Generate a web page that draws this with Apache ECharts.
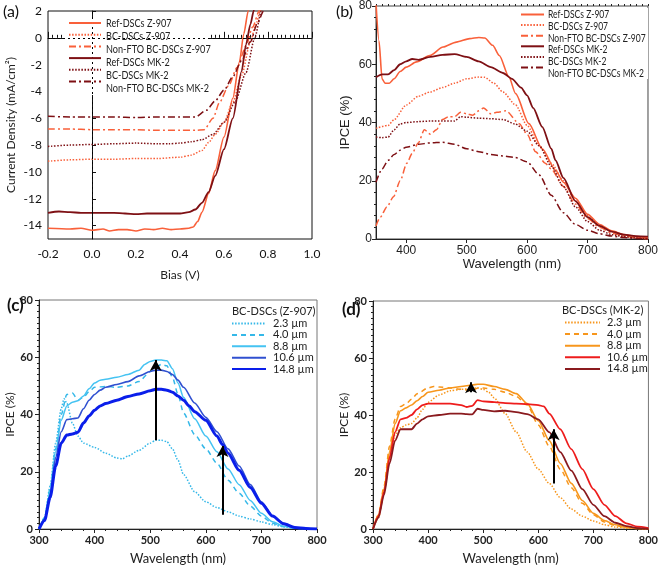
<!DOCTYPE html>
<html><head><meta charset="utf-8">
<script src="https://cdn.jsdelivr.net/npm/echarts@6/dist/echarts.min.js"></script>
<style>html,body{margin:0;padding:0;background:#fff}#c{width:661px;height:566px}</style>
</head><body><div id="c"></div>
<script>
// ---------- Panel (a): J-V curves [bias V, current density mA/cm2] ----------
const aNames = ['Ref-DSCs Z-907','BC-DSCs Z-907','Non-FTO BC-DSCs Z-907','Ref-DSCs MK-2','BC-DSCs MK-2','Non-FTO BC-DSCs MK-2'];
const aRefZ = [[-0.2,-14.2],[-0.1,-14.25],[-0.05,-14.2],[0,-14.35],[0.05,-14.25],[0.08,-14.4],[0.12,-14.3],[0.16,-14.3],[0.2,-14.4],[0.24,-14.25],[0.28,-14.3],[0.32,-14.2],[0.36,-14.3],[0.4,-14.25],[0.44,-14.2],[0.46,-14.1],[0.48,-13.7],[0.5,-13.0],[0.53,-11.6],[0.56,-9.9],[0.6,-7.4],[0.64,-4.5],[0.67,-1.8],[0.69,0.3],[0.71,2.0],[0.72,3]];
const aBCZ = [[-0.2,-9.2],[-0.1,-9.1],[0,-9.05],[0.1,-9.05],[0.2,-9.0],[0.3,-9.0],[0.4,-8.9],[0.45,-8.75],[0.5,-8.4],[0.53,-7.8],[0.56,-7.2],[0.6,-6.3],[0.64,-4.8],[0.68,-2.8],[0.72,-0.3],[0.745,1.0],[0.765,2.0],[0.775,3]];
const aNonZ = [[-0.2,-6.8],[-0.1,-6.8],[0,-6.85],[0.1,-6.85],[0.2,-6.85],[0.3,-6.9],[0.4,-6.9],[0.47,-6.9],[0.51,-6.85],[0.55,-6.0],[0.58,-4.8],[0.62,-3.6],[0.66,-2.2],[0.7,-0.6],[0.73,0.8],[0.76,2.0],[0.77,3]];
const aRefM = [[-0.2,-13.05],[-0.15,-12.95],[-0.1,-13.0],[-0.05,-13.05],[0,-13.05],[0.05,-13.05],[0.1,-13.05],[0.15,-13.1],[0.2,-13.15],[0.25,-13.1],[0.3,-13.1],[0.35,-13.1],[0.4,-13.1],[0.44,-13.0],[0.47,-12.8],[0.5,-12.3],[0.53,-11.5],[0.56,-10.3],[0.6,-8.3],[0.64,-6.0],[0.68,-2.5],[0.70,-0.5],[0.72,1.0],[0.735,2.0],[0.745,3]];
const aBCM = [[-0.2,-8.1],[-0.1,-8.0],[0,-7.95],[0.1,-7.9],[0.2,-7.85],[0.3,-7.9],[0.35,-7.9],[0.4,-7.85],[0.45,-7.75],[0.5,-7.6],[0.55,-7.2],[0.6,-6.3],[0.65,-4.8],[0.7,-2.6],[0.74,0],[0.77,2],[0.78,3]];
const aNonM = [[-0.2,-5.85],[-0.1,-5.9],[0,-5.9],[0.1,-5.9],[0.2,-5.95],[0.3,-5.9],[0.4,-5.9],[0.47,-5.9],[0.52,-5.4],[0.56,-4.7],[0.6,-3.9],[0.64,-2.9],[0.68,-1.7],[0.72,-0.3],[0.75,1.0],[0.78,2.0],[0.79,3]];
const aXTicks = [-0.2,0,0.2,0.4,0.6,0.8,1.0];
const aYTicks = [-14,-12,-10,-8,-6,-4,-2,0,2];

// ---------- Panel (b): IPCE [nm, %] ----------
const bRefZ = [[350,81],[355,68],[360,55],[365,53.5],[372,53.5],[380,55],[390,57.5],[400,59],[417,60.8],[439,63],[461,65.9],[483,67.6],[505,68.8],[520,69.2],[530,69],[543,66.5],[554,63],[570,55.6],[581,49.9],[603,39.6],[625,31],[647,23.6],[660,19.5],[680,14],[700,8.5],[720,5],[740,2.8],[760,1.5],[780,0.8],[800,0.4]];
const bBCZ = [[350,38],[370,39],[380,41],[400,46],[420,49],[440,50.5],[460,52],[480,53.5],[500,55],[520,55.6],[530,55.5],[545,53.5],[560,50.5],[581,46],[600,39],[620,32],[640,26],[660,20],[680,13],[700,8],[720,4.5],[740,2.5],[760,1.2],[780,0.5],[800,0]];
const bNonZ = [[350,4.5],[357,7.5],[368,11],[379,14.5],[390,20],[401,26],[410,29.5],[420,33],[430,37.5],[440,36],[450,37.5],[460,41],[470,42],[480,42],[490,43.5],[500,43],[510,42.5],[520,44],[528,45],[540,43],[550,43.5],[565,44],[587,39.6],[600,36],[614,30],[630,26],[640,24],[660,18],[680,12],[700,7],[720,4],[740,2],[760,1],[780,0.5],[800,0]];
const bRefM = [[350,55.5],[360,56.5],[370,56.5],[380,58],[390,60],[400,61],[410,61.8],[420,61.5],[440,62.5],[460,63.2],[480,63.5],[500,62.5],[520,61],[540,59],[560,57],[575,55],[590,52],[600,49.3],[610,45],[625,38.5],[640,31],[647,27],[660,21],[680,13],[700,7.5],[720,4.5],[740,2.5],[760,1.5],[780,1],[800,0.8]];
const bBCM = [[350,35],[360,34.8],[370,35],[380,37.5],[390,39.5],[400,40],[420,40.3],[440,40.5],[460,40.5],[480,40.5],[490,42],[500,41.8],[520,41.5],[540,41.3],[560,41],[580,39.5],[600,37],[620,32],[640,25],[660,18],[680,11],[700,6],[720,3],[740,1.5],[760,0.8],[780,0.3],[800,0]];
const bNonM = [[350,19.5],[360,24],[370,27],[380,29],[390,30.5],[400,31.5],[420,32.5],[440,33],[460,33.2],[480,32.5],[500,31],[520,30],[540,29],[560,28.5],[580,28],[600,26.5],[620,22],[640,15],[660,9],[680,5],[700,3],[720,1.8],[740,1],[760,0.5],[780,0.2],[800,0]];
const bXTicks = [400,500,600,700,800];

// ---------- Panel (c): BC-DSCs (Z-907) IPCE vs thickness ----------
const thickNames = ['2.3 µm','4.0 µm','8.8 µm','10.6 µm','14.8 µm'];
const c23 = [[300,0],[310,4],[320,15],[330,30],[340,42],[345,45.5],[350,44],[360,37],[370,32.5],[380,30],[400,28.5],[420,26.5],[440,24.8],[450,24.5],[460,25.5],[480,27.5],[500,30],[510,31],[520,31],[530,30.5],[540,28],[550,24],[560,19],[580,13],[600,9.5],[620,7.5],[640,6],[660,4.5],[680,3.5],[700,2.5],[720,1.5],[740,0.8],[760,0.3],[800,0]];
const c40 = [[300,0],[310,4],[320,14],[330,28],[340,40],[350,47],[360,47.5],[370,45],[380,46],[390,48],[400,49.5],[420,49.8],[440,49.5],[460,50],[480,51.5],[500,55],[510,56.5],[520,57.5],[530,57],[540,53],[550,47],[560,40.5],[580,33],[600,28],[620,23],[640,17],[660,12.5],[680,8],[700,4.5],[720,2],[740,0.8],[760,0.2],[800,0]];
const c88 = [[300,0],[310,3.5],[320,13],[330,27],[340,38],[350,43],[360,44.3],[370,44.8],[380,46.5],[390,49],[400,51],[410,52],[420,52.3],[440,53],[460,54],[480,55.5],[490,57.5],[500,58.5],[510,59],[520,59],[530,58.8],[540,56],[550,51],[560,46],[580,38.5],[600,32.5],[620,27],[640,21],[660,15.5],[680,10],[700,5.5],[720,2.5],[740,1],[760,0.3],[800,0]];
const c106 = [[300,0],[310,3.5],[320,12],[330,25],[340,34],[350,38.2],[360,38.5],[370,38.8],[380,42],[390,45],[400,47],[410,48.5],[420,49.5],[440,50.5],[460,51.5],[480,53.5],[500,55],[510,55.5],[520,55.5],[530,55],[540,54],[550,52],[560,49.5],[580,44],[600,39],[620,34],[640,28],[660,22],[680,15.5],[700,9.5],[720,4.5],[740,2],[760,0.5],[780,0.2],[800,0]];
const c148 = [[300,0],[310,3],[320,11],[330,22],[340,30],[350,32.8],[360,33.2],[370,33.8],[380,37],[390,39.5],[400,41.5],[410,43],[420,43.8],[440,45],[460,46.3],[480,47.2],[500,48.3],[510,48.8],[520,48.8],[530,48.5],[540,47.8],[550,46.5],[560,45],[570,43],[580,41],[600,38],[620,32.5],[630,29.5],[640,26.5],[660,20.5],[680,14.5],[700,9],[720,4.5],[740,1.8],[760,0.5],[780,0.2],[800,0]];
const cArrows = [[[510,31],[510,59]],[[630,5],[630,29]]];

// ---------- Panel (d): BC-DSCs (MK-2) IPCE vs thickness ----------
const d23 = [[300,0],[310,4],[320,13],[330,25],[340,33],[350,35.5],[360,36.5],[370,37],[380,39],[390,42],[400,44.5],[420,47],[440,48.5],[460,49],[480,49.3],[490,49.5],[500,49],[510,48],[520,46],[540,40.5],[560,34],[580,27],[600,21],[620,16],[640,11],[660,7],[680,4.5],[700,2.8],[720,1.5],[740,0.7],[760,0.3],[800,0]];
const d40 = [[300,0],[310,5],[320,15],[330,29],[340,38.5],[350,43],[360,44],[370,45.5],[380,47.5],[400,49.5],[410,50],[420,49.8],[440,49.5],[460,49],[480,48.5],[490,49.5],[500,49.5],[520,49],[540,48],[560,46.5],[580,43.5],[600,36.5],[620,29],[640,21],[660,14.5],[680,9],[700,5],[720,2.5],[740,1.2],[760,0.5],[800,0]];
const d88 = [[300,0],[310,5],[320,14],[330,27],[340,37],[350,41.5],[360,42.5],[370,43.5],[380,45],[390,46.5],[400,48],[420,48.7],[440,49.5],[460,50],[480,50.5],[490,50.8],[500,50.8],[520,50],[540,49],[560,47.5],[580,44],[600,38],[620,31],[640,23],[660,16],[680,10],[700,5.5],[720,3],[740,1.5],[760,0.6],[780,0.2],[800,0]];
const d106 = [[300,0],[310,4.5],[320,13],[330,25],[340,34],[350,38.5],[360,39],[370,40],[380,42],[390,43.5],[400,44],[420,44],[440,44],[460,43.5],[470,42.8],[480,43.2],[490,45.2],[500,44.8],[520,44.5],[540,44.2],[560,44],[580,43.8],[600,43.5],[610,43],[620,40.5],[640,35],[660,28],[680,21],[700,14],[720,8.5],[740,4.5],[760,2],[780,0.8],[800,0.3]];
const d148 = [[300,0],[310,4],[320,12],[330,23],[340,31],[350,35],[360,35],[370,35],[380,37],[390,38.5],[400,39.5],[420,40],[440,40.5],[460,40.5],[470,40.3],[480,40.2],[490,42.2],[500,41.8],[520,41.3],[540,41.5],[560,41],[580,40.3],[600,38.5],[620,34],[640,27],[660,20.5],[680,14],[700,8.5],[720,4.5],[740,2.2],[760,1],[780,0.3],[800,0]];
const dArrows = [[[478,48],[478,51.5]],[[628,16],[628,35]]];

// ---------- styling ----------
const ORANGE = '#F9603A', MAROON = '#7E1014';
const C_LB = '#35B8E8', C_LB2 = '#45C3F2', C_MB = '#3050D0', C_DB = '#0A1EEA';
const D_OR = '#F7961C', D_RED = '#EE1C1C', D_DR = '#8A1A1E';
const DOT = [1.5,1.6], DASHDOT = [7,3,2,3], DASH = [5,4];
const FA = 'Lato, "Open Sans", sans-serif';
const FB = '"Liberation Sans", Arial, sans-serif';

function line(name, data, xi, yi, color, type, width, extra) {
  return Object.assign({
    name, type: 'line', data, xAxisIndex: xi, yAxisIndex: yi,
    symbol: 'none', showSymbol: false, smooth: 0.25, smoothMonotone: 'x',
    lineStyle: { color, type, width }, itemStyle: { color }, z: 3, animation: false
  }, extra || {});
}
function arrowMarks(arr) {
  return {
    silent: true, symbol: ['none','arrow'], symbolSize: [9,11], label: { show: false },
    lineStyle: { color: '#000', width: 2, type: 'solid' },
    data: arr.map(p => [{ coord: p[0] }, { coord: p[1] }])
  };
}

const series = [
  line('a'+aNames[0], aRefZ, 0, 0, ORANGE, 'solid', 1.6, { markLine: {
    silent: true, symbol: 'none', label: { show: false },
    lineStyle: { color: '#000', type: [2,3], width: 1 },
    data: [{ xAxis: 0 }, { yAxis: 0 }] } }),
  line('a'+aNames[1], aBCZ, 0, 0, ORANGE, DOT, 1.5),
  line('a'+aNames[2], aNonZ, 0, 0, ORANGE, DASHDOT, 1.5),
  line('a'+aNames[3], aRefM, 0, 0, MAROON, 'solid', 1.8),
  line('a'+aNames[4], aBCM, 0, 0, MAROON, DOT, 1.5),
  line('a'+aNames[5], aNonM, 0, 0, MAROON, DASHDOT, 1.5),

  line('b'+aNames[0], bRefZ, 1, 1, ORANGE, 'solid', 1.6),
  line('b'+aNames[1], bBCZ, 1, 1, ORANGE, DOT, 1.5),
  line('b'+aNames[2], bNonZ, 1, 1, ORANGE, DASHDOT, 1.5),
  line('b'+aNames[3], bRefM, 1, 1, MAROON, 'solid', 1.8),
  line('b'+aNames[4], bBCM, 1, 1, MAROON, DOT, 1.5),
  line('b'+aNames[5], bNonM, 1, 1, MAROON, DASHDOT, 1.5),

  line('c'+thickNames[0], c23, 3, 2, C_LB, DOT, 1.5),
  line('c'+thickNames[1], c40, 3, 2, C_LB, DASH, 1.5),
  line('c'+thickNames[2], c88, 3, 2, C_LB2, 'solid', 1.5),
  line('c'+thickNames[3], c106, 3, 2, C_MB, 'solid', 1.6),
  line('c'+thickNames[4], c148, 3, 2, C_DB, 'solid', 3, { markLine: arrowMarks(cArrows) }),

  line('d'+thickNames[0], d23, 4, 3, D_OR, DOT, 1.5),
  line('d'+thickNames[1], d40, 4, 3, D_OR, DASH, 1.5),
  line('d'+thickNames[2], d88, 4, 3, D_OR, 'solid', 1.6),
  line('d'+thickNames[3], d106, 4, 3, D_RED, 'solid', 1.8),
  line('d'+thickNames[4], d148, 4, 3, D_DR, 'solid', 1.8, { markLine: arrowMarks(dArrows) })
];

const strip = n => n.slice(1);
const legendBase = { orient: 'vertical', formatter: strip, z: 10, itemStyle: { opacity: 0 } };

// condensed legend labels for (a) and (b): real text, horizontally scaled
function legendTexts(names, x, y0, dy, size, sx) {
  return names.map((n, i) => ({ type: 'text', x, y: y0 + i * dy, scaleX: sx, z: 20,
    style: { text: n, font: size + 'px ' + FA, fill: '#222', verticalAlign: 'middle' } }));
}

const option = {
  animation: false,
  backgroundColor: '#fff',
  grid: [
    { left: 48, top: 11, width: 264, height: 228, show: true, borderColor: '#111', borderWidth: 1 },
    { left: 376, top: 6, width: 274, height: 233, show: true, borderColor: '#444', borderWidth: 1 },
    { left: 39, top: 300, width: 278, height: 234, show: true, borderColor: '#777', borderWidth: 1 },
    { left: 373, top: 301, width: 280, height: 233, show: true, borderColor: '#777', borderWidth: 1 }
  ],
  xAxis: [
    { gridIndex: 0, type: 'value', min: -0.2, max: 1.0, interval: 0.2,
      name: 'Bias (V)', nameLocation: 'middle', nameGap: 30, nameTextStyle: { fontFamily: FA, fontSize: 12, color: '#222' },
      axisLine: { lineStyle: { color: '#111' } },
      axisTick: { inside: true, length: 6, lineStyle: { color: '#111' } },
      minorTick: { show: true, splitNumber: 10, length: 3, lineStyle: { color: '#111' } },
      splitLine: { show: false },
      axisLabel: { fontFamily: FA, fontSize: 12, color: '#111', margin: 9, formatter: v => v.toFixed(1),
        customValues: aXTicks } },
    { gridIndex: 1, type: 'value', min: 350, max: 800,
      name: 'Wavelength (nm)', nameLocation: 'middle', nameGap: 19, nameTextStyle: { fontFamily: FB, fontSize: 13, color: '#222' },
      axisLine: { lineStyle: { color: '#222' } },
      axisTick: { length: 4, customValues: bXTicks, lineStyle: { color: '#222' } },
      splitLine: { show: false },
      axisLabel: { fontFamily: FB, fontSize: 12, color: '#222', margin: 6, customValues: bXTicks } },
    { gridIndex: 1, type: 'value', min: 350, max: 800, interval: 10,
      axisLine: { show: false }, axisLabel: { show: false }, splitLine: { show: false },
      axisTick: { length: 2, lineStyle: { color: '#222' } } },
    { gridIndex: 2, type: 'value', min: 300, max: 800, interval: 100,
      name: 'Wavelength (nm)', nameLocation: 'middle', nameGap: 23, nameTextStyle: { fontFamily: FA, fontSize: 13, color: '#222' },
      axisLine: { lineStyle: { color: '#222' } },
      axisTick: { length: 4, lineStyle: { color: '#222' } },
      minorTick: { show: true, splitNumber: 5, length: 2, lineStyle: { color: '#222' } },
      splitLine: { show: false },
      axisLabel: { fontFamily: FA, fontSize: 11, fontWeight: 'bold', color: '#222', margin: 6 } },
    { gridIndex: 3, type: 'value', min: 300, max: 800, interval: 100,
      name: 'Wavelength (nm)', nameLocation: 'middle', nameGap: 23, nameTextStyle: { fontFamily: FA, fontSize: 13, color: '#222' },
      axisLine: { lineStyle: { color: '#222' } },
      axisTick: { length: 4, lineStyle: { color: '#222' } },
      minorTick: { show: true, splitNumber: 5, length: 2, lineStyle: { color: '#222' } },
      splitLine: { show: false },
      axisLabel: { fontFamily: FA, fontSize: 11, fontWeight: 'bold', color: '#222', margin: 6 } }
  ],
  yAxis: [
    { gridIndex: 0, type: 'value', min: -15, max: 2,
      name: 'Current Density (mA/cm²)', nameLocation: 'middle', nameGap: 31, nameTextStyle: { fontFamily: FA, fontSize: 12, color: '#222' },
      axisLine: { lineStyle: { color: '#111' } },
      axisTick: { inside: true, length: 4, customValues: aYTicks, lineStyle: { color: '#111' } },
      splitLine: { show: false },
      axisLabel: { fontFamily: FA, fontSize: 12, color: '#111', margin: 6, customValues: aYTicks } },
    { gridIndex: 1, type: 'value', min: 0, max: 80, interval: 20,
      name: 'IPCE (%)', nameLocation: 'middle', nameGap: 24, nameTextStyle: { fontFamily: FB, fontSize: 13, color: '#222' },
      axisLine: { lineStyle: { color: '#222' } },
      axisTick: { length: 4, lineStyle: { color: '#222' } },
      minorTick: { show: true, splitNumber: 5, length: 2, lineStyle: { color: '#222' } },
      splitLine: { show: false },
      axisLabel: { fontFamily: FB, fontSize: 12, color: '#222', margin: 4 } },
    { gridIndex: 2, type: 'value', min: 0, max: 80, interval: 20,
      name: 'IPCE (%)', nameLocation: 'middle', nameGap: 22, nameTextStyle: { fontFamily: FA, fontSize: 12, color: '#222' },
      axisLine: { lineStyle: { color: '#222' } },
      axisTick: { length: 4, lineStyle: { color: '#222' } },
      minorTick: { show: true, splitNumber: 10, length: 2, lineStyle: { color: '#222' } },
      splitLine: { show: false },
      axisLabel: { fontFamily: FA, fontSize: 11, fontWeight: 'bold', color: '#222', margin: 6 } },
    { gridIndex: 3, type: 'value', min: 0, max: 80, interval: 20,
      name: 'IPCE (%)', nameLocation: 'middle', nameGap: 22, nameTextStyle: { fontFamily: FA, fontSize: 12, color: '#222' },
      axisLine: { lineStyle: { color: '#222' } },
      axisTick: { length: 4, lineStyle: { color: '#222' } },
      minorTick: { show: true, splitNumber: 10, length: 2, lineStyle: { color: '#222' } },
      splitLine: { show: false },
      axisLabel: { fontFamily: FA, fontSize: 11, fontWeight: 'bold', color: '#222', margin: 6 } }
  ],
  legend: [
    Object.assign({}, legendBase, { left: 68, top: 17, padding: 0, itemWidth: 32, itemHeight: 12, itemGap: 0.9,
      formatter: () => '', data: aNames.map(n => 'a'+n), textStyle: { fontSize: 6 } }),
    Object.assign({}, legendBase, { left: 520, top: 9, padding: 0, itemWidth: 23, itemHeight: 11, itemGap: 0.7,
      formatter: () => '', data: aNames.map(n => 'b'+n), textStyle: { fontSize: 6 } }),
    Object.assign({}, legendBase, { left: 231, top: 318, padding: 0, itemWidth: 34, itemHeight: 11, itemGap: 0.4,
      data: thickNames.map(n => 'c'+n), textStyle: { fontFamily: FA, fontSize: 11, color: '#222', padding: [0,0,0,2] } }),
    Object.assign({}, legendBase, { left: 564, top: 317, padding: 0, itemWidth: 35, itemHeight: 11, itemGap: 0.6,
      data: thickNames.map(n => 'd'+n), textStyle: { fontFamily: FA, fontSize: 11, color: '#222', padding: [0,0,0,2] } })
  ],
  graphic: [
    { type: 'rect', shape: { x: 65, y: 17, width: 143, height: 78 }, style: { fill: '#fff' }, z: 5, silent: true },
    { type: 'rect', shape: { x: 518, y: 8, width: 130, height: 71 }, style: { fill: '#fff' }, z: 5, silent: true },
    ...legendTexts(aNames, 106, 23.5, 12.9, 12, 0.76),
    ...legendTexts(aNames, 548, 14.5, 11.7, 11.5, 0.74),
    { type: 'text', left: 3, top: 4, style: { text: '(a)', font: '16px ' + FA, fill: '#111' }, z: 20 },
    { type: 'text', left: 336, top: 4, style: { text: '(b)', font: '16px ' + FA, fill: '#111' }, z: 20 },
    { type: 'text', left: 7, top: 297, style: { text: '(c)', font: 'bold 17px ' + FA, fill: '#111' }, z: 20 },
    { type: 'text', left: 342, top: 301, style: { text: '(d)', font: 'bold 17px ' + FA, fill: '#111' }, z: 20 },
    { type: 'text', left: 232, top: 306, style: { text: 'BC-DSCs (Z-907)', font: '11px ' + FA, fill: '#222' }, z: 20 },
    { type: 'text', left: 562, top: 305, style: { text: 'BC-DSCs (MK-2)', font: '11px ' + FA, fill: '#222' }, z: 20 }
  ],
  series
};
const chart = echarts.init(document.getElementById('c'), null, { renderer: 'canvas' });
chart.setOption(option);
</script></body></html>
